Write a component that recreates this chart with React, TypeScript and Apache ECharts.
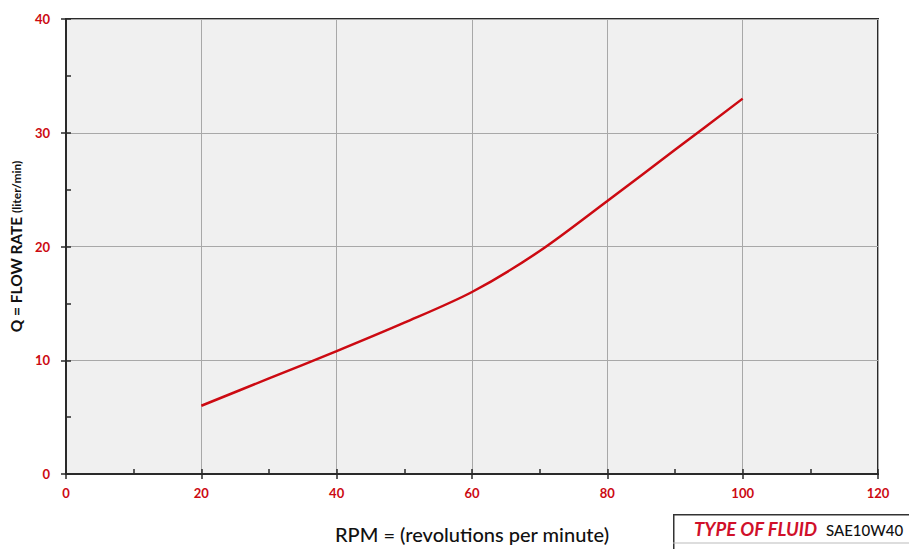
import React, { useEffect, useRef } from "react";
import * as echarts from "echarts";

const rpm = [20, 30, 40, 50, 60, 70, 80, 90, 100];
const flow = [6, 8.4, 10.8, 13.3, 16, 19.6, 24, 28.5, 33];
const xTitle = "RPM = (revolutions per minute)";
const yTitleMain = "Q = FLOW RATE ";
const yTitleUnit = "(liter/min)";
const fluidLabel = "TYPE OF FLUID";
const fluidValue = "SAE10W40";

const RED = "#cc0a12";
const FONT = "Lato, 'Open Sans', sans-serif";

export default function App() {
  const ref = useRef<HTMLDivElement>(null);
  useEffect(() => {
    const chart = echarts.init(ref.current!, null, { renderer: "svg" });
    const tickLbl = { color: RED, fontWeight: "bold" as const, fontSize: 13, fontFamily: FONT };
    chart.setOption({
      animation: false,
      grid: {
        left: 66, right: 31, top: 19, bottom: 70,
        show: true, backgroundColor: "#f0f0f0", borderColor: "#2a2a2a", borderWidth: 2,
      },
      xAxis: [
        {
          type: "value", min: 0, max: 120, interval: 20, position: "bottom",
          axisLine: { show: true, lineStyle: { color: "#2a2a2a", width: 2 } },
          axisTick: { show: true, inside: false, length: 5, lineStyle: { color: "#2a2a2a", width: 1.5 } },
          splitLine: { show: true, lineStyle: { color: "#a8a8a8", width: 1 } },
          axisLabel: { ...tickLbl, margin: 12 },
          name: xTitle, nameLocation: "middle", nameGap: 50,
          nameTextStyle: { color: "#111", fontSize: 20, fontWeight: 500, fontFamily: FONT },
        },
        {
          type: "value", min: 0, max: 120, interval: 10, position: "bottom", offset: 0,
          axisLine: { show: false },
          axisTick: { show: true, inside: true, length: 5, lineStyle: { color: "#2a2a2a", width: 1.5 } },
          splitLine: { show: false },
          axisLabel: { show: false },
        },
      ],
      yAxis: [
        {
          type: "value", min: 0, max: 40, interval: 10, position: "left",
          axisLine: { show: true, lineStyle: { color: "#2a2a2a", width: 2 } },
          axisTick: { show: true, inside: false, length: 5, lineStyle: { color: "#2a2a2a", width: 1.5 } },
          splitLine: { show: true, lineStyle: { color: "#a8a8a8", width: 1 } },
          axisLabel: { ...tickLbl, margin: 16 },
          name: `{a|${yTitleMain}}{b|${yTitleUnit}}`, nameLocation: "middle", nameGap: 42, nameRotate: 90,
          nameTextStyle: {
            rich: {
              a: { color: "#111", fontSize: 15.5, fontWeight: "bold", fontFamily: FONT },
              b: { color: "#111", fontSize: 12, fontWeight: "bold", fontFamily: FONT },
            },
          },
        },
        {
          type: "value", min: 0, max: 40, interval: 5, position: "left", offset: 0,
          axisLine: { show: false },
          axisTick: { show: true, inside: true, length: 5, lineStyle: { color: "#2a2a2a", width: 1.5 } },
          splitLine: { show: false },
          axisLabel: { show: false },
        },
      ],
      series: [
        {
          type: "line", xAxisIndex: 0, yAxisIndex: 0,
          data: rpm.map((x, i) => [x, flow[i]]),
          smooth: 0.3, showSymbol: false,
          lineStyle: { color: RED, width: 2.5 },
        },
      ],
      graphic: [
        {
          type: "rect", left: 673, top: 514, z: 10,
          shape: { width: 250, height: 45 },
          style: { fill: "#fff", stroke: "#333", lineWidth: 1.5 },
        },
        {
          type: "line", z: 11,
          shape: { x1: 673, y1: 543, x2: 909, y2: 543 },
          style: { stroke: "#bbb", lineWidth: 1 },
        },
        {
          type: "text", left: 694, top: 519, z: 12,
          style: { text: fluidLabel, fill: "#d0102a", fontSize: 18.5, fontWeight: "bold", fontStyle: "italic", fontFamily: FONT },
        },
        {
          type: "text", left: 826, top: 522, z: 12,
          style: { text: fluidValue, fill: "#111", fontSize: 15, fontWeight: 500, fontFamily: FONT },
        },
      ],
    });
    return () => chart.dispose();
  }, []);
  return <div ref={ref} style={{ width: 909, height: 549, position: "absolute", left: 0, top: 0, background: "#fff" }} />;
}
